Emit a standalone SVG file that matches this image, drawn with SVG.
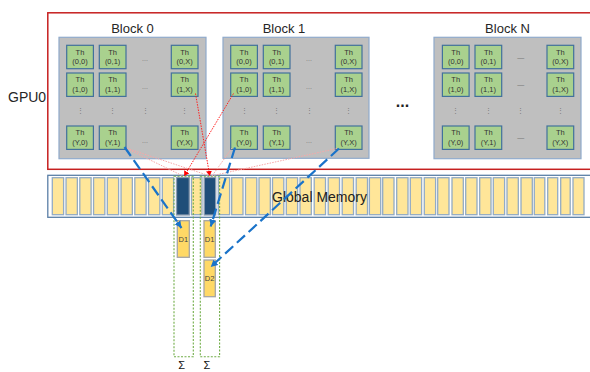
<svg xmlns="http://www.w3.org/2000/svg" width="590" height="372" viewBox="0 0 590 372">
<style>
text{font-family:"Liberation Sans","Noto Sans",Arial,sans-serif;}
.lbl{font-size:13px;fill:#262626;}
.blk{fill:#bfbfbf;stroke:#8faacb;stroke-width:1.2;}
.th rect{fill:#a9d18e;stroke:#41719c;stroke-width:1.2;}
.th text{font-size:7.5px;fill:#333;text-anchor:middle;}
.dots{font-size:7px;fill:#777;text-anchor:middle;}
.mc{fill:#ffe699;stroke:#93abc4;stroke-width:1.3;}
.md{fill:#1f4e79;stroke:#8a9bb0;stroke-width:1.3;}
.d rect{fill:#ffd966;stroke:#a5a5a5;stroke-width:1.3;}
.d text{font-size:7.5px;fill:#444;text-anchor:middle;}
.col{fill:none;stroke:#70ad47;stroke-width:1.1;stroke-dasharray:2 1.5;}
.blue{stroke:#1a73c9;stroke-width:2.2;stroke-dasharray:11 5;fill:none;}
.red{stroke:#ff2020;stroke-width:1;stroke-dasharray:1.5 1.2;fill:none;}
.pink{stroke:#f7a8a8;stroke-width:1;stroke-dasharray:1.5 1.2;fill:none;}
</style>
<defs>
<marker id="ab" markerUnits="userSpaceOnUse" markerWidth="8" markerHeight="8" refX="7" refY="4" orient="auto"><path d="M0,0.5 L7,4 L0,7.5 z" fill="#1a73c9"/></marker>
<marker id="ar" markerUnits="userSpaceOnUse" markerWidth="6" markerHeight="6" refX="5" refY="3" orient="auto"><path d="M0,0 L5,3 L0,6 z" fill="#ff0000"/></marker>
</defs>

<g id="gpu0">
<rect x="47.8" y="12.8" width="560" height="156.5" fill="none" stroke="#c62020" stroke-width="1.5"/>
<text class="lbl" x="8" y="102" style="font-size:14px">GPU0</text>
</g>

<g id="block0">
<text class="lbl" x="132.5" y="33.3" text-anchor="middle">Block 0</text>
<rect class="blk" x="59" y="37.3" width="147" height="121.4"/>
<g transform="translate(59,37)">
<g class="th"><rect x="7.7" y="8.3" width="26.7" height="23.4"/><text x="21" y="17.5">Th</text><text x="21" y="27">(0,0)</text></g>
<g class="th"><rect x="40.3" y="8.3" width="26.7" height="23.4"/><text x="53.6" y="17.5">Th</text><text x="53.6" y="27">(0,1)</text></g>
<g class="th"><rect x="112.3" y="8.3" width="26.7" height="23.4"/><text x="125.6" y="17.5">Th</text><text x="125.6" y="27">(0,X)</text></g>
<g class="th"><rect x="7.7" y="36" width="26.7" height="23.4"/><text x="21" y="45.2">Th</text><text x="21" y="54.7">(1,0)</text></g>
<g class="th"><rect x="40.3" y="36" width="26.7" height="23.4"/><text x="53.6" y="45.2">Th</text><text x="53.6" y="54.7">(1,1)</text></g>
<g class="th"><rect x="112.3" y="36" width="26.7" height="23.4"/><text x="125.6" y="45.2">Th</text><text x="125.6" y="54.7">(1,X)</text></g>
<g class="th"><rect x="7.7" y="89" width="26.7" height="23.4"/><text x="21" y="98.2">Th</text><text x="21" y="107.7">(Y,0)</text></g>
<g class="th"><rect x="40.3" y="89" width="26.7" height="23.4"/><text x="53.6" y="98.2">Th</text><text x="53.6" y="107.7">(Y,1)</text></g>
<g class="th"><rect x="112.3" y="89" width="26.7" height="23.4"/><text x="125.6" y="98.2">Th</text><text x="125.6" y="107.7">(Y,X)</text></g>
<text class="dots" x="86" y="24">...</text>
<text class="dots" x="86" y="52">...</text>
<text class="dots" x="86" y="106">...</text>
<text class="dots" x="21" y="76">⋮</text>
<text class="dots" x="53.6" y="76">⋮</text>
<text class="dots" x="86" y="76">⋮</text>
<text class="dots" x="125.6" y="76">⋮</text>
</g>
</g>

<g id="block1">
<text class="lbl" x="284" y="33.3" text-anchor="middle">Block 1</text>
<rect class="blk" x="223" y="37.3" width="146" height="121"/>
<g transform="translate(223,37)">
<g class="th"><rect x="7.7" y="8.3" width="26.7" height="23.4"/><text x="21" y="17.5">Th</text><text x="21" y="27">(0,0)</text></g>
<g class="th"><rect x="40.3" y="8.3" width="26.7" height="23.4"/><text x="53.6" y="17.5">Th</text><text x="53.6" y="27">(0,1)</text></g>
<g class="th"><rect x="112.3" y="8.3" width="26.7" height="23.4"/><text x="125.6" y="17.5">Th</text><text x="125.6" y="27">(0,X)</text></g>
<g class="th"><rect x="7.7" y="36" width="26.7" height="23.4"/><text x="21" y="45.2">Th</text><text x="21" y="54.7">(1,0)</text></g>
<g class="th"><rect x="40.3" y="36" width="26.7" height="23.4"/><text x="53.6" y="45.2">Th</text><text x="53.6" y="54.7">(1,1)</text></g>
<g class="th"><rect x="112.3" y="36" width="26.7" height="23.4"/><text x="125.6" y="45.2">Th</text><text x="125.6" y="54.7">(1,X)</text></g>
<g class="th"><rect x="7.7" y="89" width="26.7" height="23.4"/><text x="21" y="98.2">Th</text><text x="21" y="107.7">(Y,0)</text></g>
<g class="th"><rect x="40.3" y="89" width="26.7" height="23.4"/><text x="53.6" y="98.2">Th</text><text x="53.6" y="107.7">(Y,1)</text></g>
<g class="th"><rect x="112.3" y="89" width="26.7" height="23.4"/><text x="125.6" y="98.2">Th</text><text x="125.6" y="107.7">(Y,X)</text></g>
<text class="dots" x="86" y="24">...</text>
<text class="dots" x="86" y="52">...</text>
<text class="dots" x="86" y="106">...</text>
<text class="dots" x="21" y="76">⋮</text>
<text class="dots" x="53.6" y="76">⋮</text>
<text class="dots" x="86" y="76">⋮</text>
<text class="dots" x="125.6" y="76">⋮</text>
</g>
</g>

<g id="more">
<text x="402.5" y="107" text-anchor="middle" style="font-size:16px;font-weight:bold;fill:#222">...</text>
</g>

<g id="blockN">
<text class="lbl" x="507.5" y="33.3" text-anchor="middle">Block N</text>
<rect class="blk" x="434" y="37.3" width="147" height="121.4"/>
<g transform="translate(434.7,37)">
<g class="th"><rect x="7.7" y="8.3" width="26.7" height="23.4"/><text x="21" y="17.5">Th</text><text x="21" y="27">(0,0)</text></g>
<g class="th"><rect x="40.3" y="8.3" width="26.7" height="23.4"/><text x="53.6" y="17.5">Th</text><text x="53.6" y="27">(0,1)</text></g>
<g class="th"><rect x="112.3" y="8.3" width="26.7" height="23.4"/><text x="125.6" y="17.5">Th</text><text x="125.6" y="27">(0,X)</text></g>
<g class="th"><rect x="7.7" y="36" width="26.7" height="23.4"/><text x="21" y="45.2">Th</text><text x="21" y="54.7">(1,0)</text></g>
<g class="th"><rect x="40.3" y="36" width="26.7" height="23.4"/><text x="53.6" y="45.2">Th</text><text x="53.6" y="54.7">(1,1)</text></g>
<g class="th"><rect x="112.3" y="36" width="26.7" height="23.4"/><text x="125.6" y="45.2">Th</text><text x="125.6" y="54.7">(1,X)</text></g>
<g class="th"><rect x="7.7" y="89" width="26.7" height="23.4"/><text x="21" y="98.2">Th</text><text x="21" y="107.7">(Y,0)</text></g>
<g class="th"><rect x="40.3" y="89" width="26.7" height="23.4"/><text x="53.6" y="98.2">Th</text><text x="53.6" y="107.7">(Y,1)</text></g>
<g class="th"><rect x="112.3" y="89" width="26.7" height="23.4"/><text x="125.6" y="98.2">Th</text><text x="125.6" y="107.7">(Y,X)</text></g>
<text class="dots" x="86" y="22.5">—</text>
<text class="dots" x="86" y="50.2">—</text>
<text class="dots" x="86" y="103.2">—</text>
<text class="dots" x="21" y="76">⋮</text>
<text class="dots" x="53.6" y="76">⋮</text>
<text class="dots" x="86" y="76">⋮</text>
<text class="dots" x="125.6" y="76">⋮</text>
</g>
</g>

<g id="global-memory">
<rect x="47.8" y="175.3" width="560" height="42" fill="#fff" stroke="#5b7fa6" stroke-width="1.3"/>
<rect class="mc" x="52.3" y="177.7" width="11.3" height="37"/>
<rect class="mc" x="66.05" y="177.7" width="11.3" height="37"/>
<rect class="mc" x="79.8" y="177.7" width="11.3" height="37"/>
<rect class="mc" x="93.55" y="177.7" width="11.3" height="37"/>
<rect class="mc" x="107.3" y="177.7" width="11.3" height="37"/>
<rect class="mc" x="121.05" y="177.7" width="11.3" height="37"/>
<rect class="mc" x="134.8" y="177.7" width="11.3" height="37"/>
<rect class="mc" x="148.55" y="177.7" width="11.3" height="37"/>
<rect class="mc" x="162.3" y="177.7" width="11.3" height="37"/>
<rect class="md" x="176.5" y="177.5" width="12.8" height="37.5"/>
<rect class="mc" x="191.5" y="177.7" width="10.5" height="37"/>
<rect class="md" x="204.2" y="177.5" width="11.5" height="37.5"/>
<rect class="mc" x="218.3" y="177.7" width="11.3" height="37"/>
<rect class="mc" x="231.7" y="177.7" width="11.3" height="37"/>
<rect class="mc" x="245.5" y="177.7" width="11.3" height="37"/>
<rect class="mc" x="259" y="177.7" width="11.3" height="37"/>
<rect class="mc" x="272.5" y="177.7" width="11.3" height="37"/>
<rect class="mc" x="286.3" y="177.7" width="11.3" height="37"/>
<rect class="mc" x="300" y="177.7" width="11.3" height="37"/>
<rect class="mc" x="314.2" y="177.7" width="11.3" height="37"/>
<rect class="mc" x="328.2" y="177.7" width="11.3" height="37"/>
<rect class="mc" x="342.2" y="177.7" width="11.3" height="37"/>
<rect class="mc" x="356.2" y="177.7" width="11.3" height="37"/>
<rect class="mc" x="369.4" y="177.7" width="11.3" height="37"/>
<rect class="mc" x="382.7" y="177.7" width="11.3" height="37"/>
<rect class="mc" x="396.7" y="177.7" width="11.3" height="37"/>
<rect class="mc" x="410.3" y="177.7" width="11.3" height="37"/>
<rect class="mc" x="424.3" y="177.7" width="11.3" height="37"/>
<rect class="mc" x="437.7" y="177.7" width="11.3" height="37"/>
<rect class="mc" x="452" y="177.7" width="11.3" height="37"/>
<rect class="mc" x="465.7" y="177.7" width="11.3" height="37"/>
<rect class="mc" x="479.7" y="177.7" width="11.3" height="37"/>
<rect class="mc" x="493.3" y="177.7" width="11.3" height="37"/>
<rect class="mc" x="507" y="177.7" width="11.3" height="37"/>
<rect class="mc" x="521" y="177.7" width="11.3" height="37"/>
<rect class="mc" x="534.3" y="177.7" width="10.5" height="37"/>
<rect class="mc" x="547.7" y="177.7" width="10" height="37"/>
<rect class="mc" x="560.7" y="177.7" width="9.5" height="37"/>
<rect class="mc" x="573" y="177.7" width="11" height="37"/>
<text x="319.5" y="201.5" text-anchor="middle" style="font-size:14px;fill:#222">Global Memory</text>
</g>

<g id="column-1">
<rect class="col" x="174" y="176.3" width="19.3" height="180.4"/>
<g class="d"><rect x="177.3" y="220.7" width="12" height="36.6"/><text x="183.3" y="241.5">D1</text></g>
<text x="181.7" y="368.8" text-anchor="middle" style="font-size:11px;fill:#111">Σ</text>
</g>

<g id="column-2">
<rect class="col" x="200.3" y="176.3" width="19.3" height="180.4"/>
<g class="d"><rect x="204" y="220.7" width="11.3" height="36.6"/><text x="209.6" y="241.5">D1</text></g>
<g class="d"><rect x="204" y="260" width="11.3" height="36.7"/><text x="209.6" y="280.8">D2</text></g>
<text x="207" y="368.8" text-anchor="middle" style="font-size:11px;fill:#111">Σ</text>
</g>

<g id="connectors">
<path class="pink" d="M124.5,147.5 L183,176"/>
<path class="pink" d="M124.5,147.5 L210,176"/>
<path class="pink" d="M232,148 L212,176"/>
<path class="pink" d="M337,148.5 L211,176"/>
<path class="red" d="M195.5,93.5 L209.8,176" marker-end="url(#ar)"/>
<path class="red" d="M233.5,93.5 L184.2,176" marker-end="url(#ar)"/>
<path class="blue" d="M124.5,147 L181.5,228" marker-end="url(#ab)"/>
<path class="blue" d="M235,147.5 L210.7,226.5" marker-end="url(#ab)"/>
<path class="blue" d="M339,148.5 L210.7,267" marker-end="url(#ab)"/>
</g>
</svg>
